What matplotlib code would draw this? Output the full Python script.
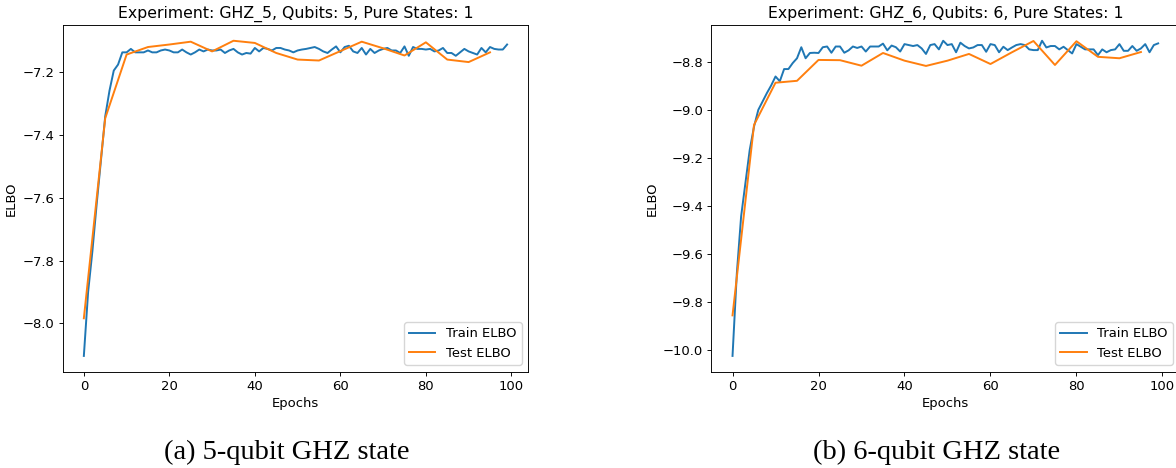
import matplotlib
matplotlib.use("Agg")
import matplotlib.pyplot as plt
import numpy as np

epochs_train = list(range(100))
epochs_test = list(range(0, 100, 5))

train_5 = [-8.104, -7.90, -7.77, -7.62, -7.48, -7.34, -7.258, -7.194, -7.175, -7.136,
           -7.136, -7.125, -7.136, -7.136, -7.136, -7.130, -7.136, -7.136, -7.130, -7.127,
           -7.130, -7.136, -7.136, -7.127, -7.136, -7.143, -7.136, -7.127, -7.133, -7.127,
           -7.130, -7.130, -7.127, -7.138, -7.130, -7.125, -7.136, -7.143, -7.138, -7.140,
           -7.122, -7.133, -7.122, -7.125, -7.130, -7.122, -7.122, -7.127, -7.130, -7.136,
           -7.130, -7.127, -7.125, -7.122, -7.119, -7.125, -7.133, -7.138, -7.127, -7.117,
           -7.136, -7.119, -7.115, -7.133, -7.138, -7.122, -7.143, -7.125, -7.138, -7.130,
           -7.125, -7.122, -7.130, -7.130, -7.138, -7.117, -7.147, -7.119, -7.125, -7.125,
           -7.127, -7.125, -7.133, -7.130, -7.122, -7.138, -7.138, -7.147, -7.136, -7.125,
           -7.133, -7.138, -7.143, -7.122, -7.136, -7.119, -7.125, -7.127, -7.127, -7.111]
test_5 = [-7.984, -7.346, -7.143, -7.119, -7.111, -7.102, -7.133, -7.099, -7.106, -7.138,
          -7.159, -7.162, -7.132, -7.102, -7.123, -7.146, -7.104, -7.159, -7.167, -7.136]

train_6 = [-10.024, -9.68, -9.442, -9.303, -9.165, -9.068, -8.998, -8.963, -8.928, -8.896,
           -8.859, -8.879, -8.828, -8.828, -8.803, -8.783, -8.737, -8.783, -8.761, -8.760,
           -8.761, -8.737, -8.734, -8.760, -8.734, -8.734, -8.760, -8.750, -8.734, -8.740,
           -8.734, -8.755, -8.734, -8.734, -8.734, -8.722, -8.750, -8.730, -8.737, -8.755,
           -8.724, -8.728, -8.732, -8.728, -8.742, -8.765, -8.728, -8.724, -8.746, -8.710,
           -8.728, -8.724, -8.758, -8.718, -8.732, -8.742, -8.738, -8.728, -8.728, -8.756,
           -8.724, -8.728, -8.758, -8.735, -8.749, -8.738, -8.728, -8.724, -8.728, -8.746,
           -8.749, -8.749, -8.710, -8.738, -8.732, -8.732, -8.746, -8.735, -8.749, -8.763,
           -8.724, -8.735, -8.746, -8.746, -8.746, -8.770, -8.746, -8.758, -8.749, -8.746,
           -8.724, -8.752, -8.752, -8.732, -8.752, -8.742, -8.724, -8.758, -8.728, -8.721]
test_6 = [-9.855, -9.061, -8.885, -8.877, -8.790, -8.791, -8.814, -8.761, -8.793, -8.815,
          -8.793, -8.765, -8.807, -8.758, -8.711, -8.811, -8.712, -8.777, -8.783, -8.757]

titles = ["Experiment: GHZ_5, Qubits: 5, Pure States: 1",
          "Experiment: GHZ_6, Qubits: 6, Pure States: 1"]
captions = ["(a) 5-qubit GHZ state", "(b) 6-qubit GHZ state"]

s = 0.83
f = 0.945
plt.rcParams.update({
    "font.size": 10 * f,
    "axes.titlesize": 12 * f,
    "axes.labelsize": 10 * f,
    "xtick.labelsize": 10 * f,
    "ytick.labelsize": 10 * f,
    "legend.fontsize": 10 * f,
    "lines.linewidth": 1.4,
    "axes.linewidth": 0.8 * s,
    "xtick.major.width": 0.8 * s,
    "ytick.major.width": 0.8 * s,
    "xtick.major.size": 3.5 * s,
    "ytick.major.size": 3.5 * s,
    "xtick.major.pad": 3.5 * s,
    "ytick.major.pad": 3.5 * s,
    "axes.titlepad": 6 * s,
    "axes.labelpad": 4 * s,
})

fig = plt.figure(figsize=(11.76, 4.68), dpi=100)
positions = [[0.0533, 0.2058, 0.3959, 0.7408], [0.6048, 0.2058, 0.3981, 0.7408]]
data = [(train_5, test_5), (train_6, test_6)]
cap_x = [0.244, 0.796]

for i in range(2):
    ax = fig.add_axes(positions[i])
    tr, te = data[i]
    ax.plot(epochs_train, tr, color="#1f77b4", label="Train ELBO")
    ax.plot(epochs_test, te, color="#ff7f0e", label="Test ELBO")
    ax.set_title(titles[i])
    ax.set_xlabel("Epochs")
    ax.set_ylabel("ELBO")
    ax.legend(loc="lower right")
    fig.text(cap_x[i], 0.034, captions[i], ha="center", va="center",
             family="Liberation Serif", fontsize=20.5)

fig.savefig("out.png", dpi=100)
